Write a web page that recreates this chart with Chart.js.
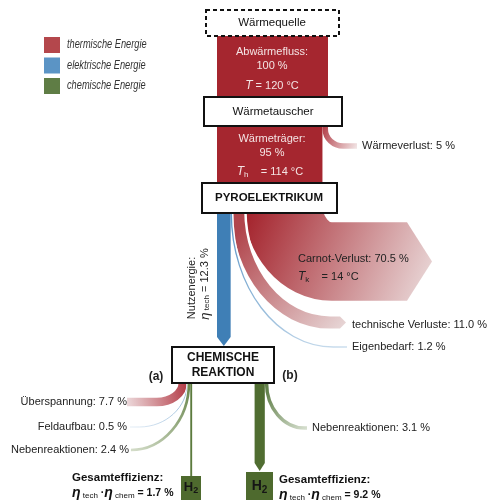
<!DOCTYPE html>
<html>
<head>
<meta charset="utf-8">
<script src="https://cdn.jsdelivr.net/npm/chart.js@4"></script>
<style>
  html, body { margin: 0; padding: 0; background: #fff; }
  #wrap { width: 501px; height: 500px; position: relative; }
</style>
</head>
<body>
<div id="wrap"><canvas id="sankey"></canvas></div>
<script>
/* ── Daten ── */
var legendLabels   = ['thermische Energie', 'elektrische Energie', 'chemische Energie'];
var nodeLabels     = ['Wärmequelle', 'Wärmetauscher', 'PYROELEKTRIKUM', 'CHEMISCHE', 'REAKTION'];
var mainLabels     = ['Abwärmefluss:', 'Wärmeträger:', 'Nutzenergie:'];
var mainValues     = [100, 95, 12.3];
var tempValues     = [120, 114, 14];          // T, Th, Tk in °C
var lossLabels     = ['Wärmeverlust', 'Carnot-Verlust', 'technische Verluste', 'Eigenbedarf'];
var lossValues     = [5, 70.5, 11.0, 1.2];
var lossDecimals   = [0, 1, 1, 1];
var pathALabels    = ['Überspannung', 'Feldaufbau', 'Nebenreaktionen'];
var pathAValues    = [7.7, 0.5, 2.4];
var pathBLabels    = ['Nebenreaktionen'];
var pathBValues    = [3.1];
var h2Values       = [1.7, 9.2];              // Gesamteffizienz (a), (b)

/* ── Layout (Datenkoordinaten = Pixel) ── */
var PCT = 1.11;                               // Einheiten pro Prozent
var C_RED = '#a5262f', C_BLUE = '#3f7fb6', C_GREEN = '#506d31';
var LEG_COLORS = ['#b4474c', '#5b94c5', '#5f7d45'];
var BAND_X = 217;

function fmt(v, d) { return v.toFixed(d) + ' %'; }

var sankeyPlugin = {
    id: 'sankey',
    afterDraw: function (chart) {
        var ctx = chart.ctx, xs = chart.scales.x, ys = chart.scales.y;
        var X = function (v) { return xs.getPixelForValue(v); };
        var Y = function (v) { return ys.getPixelForValue(v); };
        var W = function (p) { return X(p * PCT) - X(0); };
        var FONT = '"Liberation Sans", Arial, sans-serif';

        function rich(parts, x, y, align, color) {
            var total = 0;
            parts.forEach(function (p) { ctx.font = p[1] + ' ' + FONT; total += ctx.measureText(p[0]).width; });
            var cx = align === 'center' ? x - total / 2 : (align === 'right' ? x - total : x);
            ctx.fillStyle = color || '#222';
            ctx.textAlign = 'left';
            ctx.textBaseline = 'middle';
            parts.forEach(function (p) {
                ctx.font = p[1] + ' ' + FONT;
                ctx.fillText(p[0], cx, y + (p[2] || 0));
                cx += ctx.measureText(p[0]).width;
            });
        }
        function text(t, x, y, font, align, color) { rich([[t, font]], X(x), Y(y), align, color); }

        function grad(x0, y0, x1, y1, c0, c1) {
            var g = ctx.createLinearGradient(X(x0), Y(y0), X(x1), Y(y1));
            g.addColorStop(0, c0); g.addColorStop(1, c1);
            return g;
        }

        // Band: senkrecht ab (x0,y0), Viertelellipse (rx,ry), waagrecht bis xEnd
        function flow(f) {
            var w = W(f.v), dir = f.dir, K = 0.5523;
            var x0 = X(f.x0), y0 = Y(f.y0), yE = Y(f.yEnd), xE = X(f.xEnd);
            var rx = X(f.rx) - X(0), ry = Y(f.ry) - Y(0), ys0 = yE - ry;
            ctx.beginPath();
            ctx.moveTo(x0, y0);
            if (ys0 > y0) ctx.lineTo(x0, ys0);
            ctx.bezierCurveTo(x0, ys0 + K * ry, x0 + dir * rx * (1 - K), yE, x0 + dir * rx, yE);
            ctx.lineTo(xE, yE);
            if (f.halo) {
                ctx.strokeStyle = '#fff'; ctx.lineWidth = w + f.halo; ctx.lineCap = 'butt'; ctx.stroke();
            }
            ctx.strokeStyle = f.fill; ctx.lineWidth = Math.max(w, 0.8); ctx.lineCap = 'butt'; ctx.stroke();
            if (f.arrow) {
                ctx.beginPath();
                ctx.moveTo(xE, yE - w / 2);
                ctx.lineTo(xE + dir * f.arrow, yE);
                ctx.lineTo(xE, yE + w / 2);
                ctx.closePath();
                ctx.fillStyle = f.fill; ctx.fill();
            }
        }

        function box(x0, y0, x1, y1, dashed) {
            ctx.save();
            ctx.fillStyle = '#fff';
            ctx.fillRect(X(x0), Y(y0), X(x1) - X(x0), Y(y1) - Y(y0));
            ctx.lineWidth = 2; ctx.strokeStyle = '#111';
            if (dashed) ctx.setLineDash([4, 3]);
            ctx.strokeRect(X(x0), Y(y0), X(x1) - X(x0), Y(y1) - Y(y0));
            ctx.restore();
        }

        ctx.save();

        /* Legende (schmal gesetzt) */
        legendLabels.forEach(function (lbl, i) {
            var y = 37 + i * 20.5;
            ctx.fillStyle = LEG_COLORS[i];
            ctx.fillRect(X(44), Y(y), W(16 / PCT), Y(y + 16) - Y(y));
            ctx.save();
            ctx.translate(X(67), Y(y + 8));
            ctx.scale(0.77, 1);
            rich([[lbl, 'italic 12px']], 0, 0, 'left', '#333');
            ctx.restore();
        });

        /* Wärmebänder */
        ctx.fillStyle = C_RED;
        ctx.fillRect(X(BAND_X), Y(36), W(mainValues[0]), Y(98) - Y(36));
        ctx.fillRect(X(BAND_X), Y(125), W(mainValues[1]), Y(184) - Y(125));

        var xWv = BAND_X + mainValues[1] * PCT + lossValues[0] * PCT / 2;
        flow({ v: lossValues[0], x0: xWv, y0: 120, yEnd: 146, ry: 17, rx: 18, xEnd: 357, dir: 1,
               fill: grad(322, 130, 357, 146, '#b3404a', '#f1e3e3') });

        /* Aufteilung nach Pyroelektrikum */
        var xBlue = BAND_X + mainValues[2] * PCT / 2;
        var xEig  = BAND_X + mainValues[2] * PCT + lossValues[3] * PCT / 2;
        var xTech = BAND_X + (mainValues[2] + lossValues[3]) * PCT + lossValues[2] * PCT / 2;
        var xCar  = BAND_X + (mainValues[2] + lossValues[3] + lossValues[2]) * PCT + lossValues[1] * PCT / 2;

        flow({ v: lossValues[1], x0: xCar, y0: 205, yEnd: 261.5, ry: 56.5, rx: 48.5, xEnd: 407, dir: 1, arrow: 25,
               fill: grad(250, 215, 432, 290, '#a5262f', '#eadada') });
        flow({ v: lossValues[2], x0: xTech, y0: 205, yEnd: 322.5, ry: 112, rx: 92, xEnd: 340, dir: 1, arrow: 6, halo: 5,
               fill: grad(240, 230, 346, 325, '#b1454c', '#e7d6d6') });
        flow({ v: lossValues[3], x0: xEig, y0: 205, yEnd: 347, ry: 134, rx: 102, xEnd: 347, dir: 1, halo: 3,
               fill: grad(232, 220, 347, 347, '#5f97c7', '#cddfee') });

        // Nutzenergie (senkrecht, mit Spitze)
        var wb = W(mainValues[2]);
        ctx.fillStyle = C_BLUE;
        ctx.beginPath();
        ctx.moveTo(X(BAND_X), Y(205));
        ctx.lineTo(X(BAND_X) + wb, Y(205));
        ctx.lineTo(X(BAND_X) + wb, Y(337));
        ctx.lineTo(X(xBlue), Y(346));
        ctx.lineTo(X(BAND_X), Y(337));
        ctx.closePath();
        ctx.fill();

        /* Pfad (a) */
        var ax = 178.5, acc = 0;
        var aGeo = [
            { yEnd: 402, ry: 19, rx: 26, xEnd: 127, c0: '#b33a45', c1: '#ecd8da' },
            { yEnd: 427, ry: 44, rx: 48, xEnd: 130, c0: '#7ba8d0', c1: '#dde9f4' },
            { yEnd: 450, ry: 67, rx: 58, xEnd: 132, c0: '#6d8a52', c1: '#d3dcc8' }
        ];
        pathAValues.forEach(function (v, i) {
            var g = aGeo[i];
            flow({ v: v, x0: ax + (acc + v / 2) * PCT, y0: 380, yEnd: g.yEnd, ry: g.ry, rx: g.rx, xEnd: g.xEnd, dir: -1,
                   halo: i ? 1.5 : 0, fill: grad(ax + 10, 390, g.xEnd, g.yEnd, g.c0, g.c1) });
            acc += v;
        });
        var xH2a = ax + (acc + h2Values[0] / 2) * PCT;
        ctx.fillStyle = '#5c7b3d';
        ctx.fillRect(X(xH2a) - W(h2Values[0]) / 2, Y(380), W(h2Values[0]), Y(477) - Y(380));

        /* Pfad (b) */
        var bx = 254.6;
        var xH2b = bx + h2Values[1] * PCT / 2;
        flow({ v: pathBValues[0], x0: bx + (h2Values[1] + pathBValues[0] / 2) * PCT, y0: 380, yEnd: 428, ry: 45, rx: 38, xEnd: 307, dir: 1,
               fill: grad(268, 390, 307, 428, '#62804a', '#d6dfcf') });
        var wg = W(h2Values[1]);
        ctx.fillStyle = C_GREEN;
        ctx.beginPath();
        ctx.moveTo(X(bx), Y(380));
        ctx.lineTo(X(bx) + wg, Y(380));
        ctx.lineTo(X(bx) + wg, Y(463));
        ctx.lineTo(X(xH2b), Y(471));
        ctx.lineTo(X(bx), Y(463));
        ctx.closePath();
        ctx.fill();

        /* H2-Kästen */
        ctx.fillStyle = '#4e6a2e';
        ctx.fillRect(X(181), Y(476), X(201) - X(181), Y(501) - Y(476));
        ctx.fillRect(X(246), Y(472), X(273) - X(246), Y(501) - Y(472));
        rich([['H', 'bold 13px'], ['2', 'bold 9px', 4]], X(191), Y(487), 'center', '#151515');
        rich([['H', 'bold 14px'], ['2', 'bold 10px', 4]], X(259.5), Y(486), 'center', '#151515');

        /* Knoten */
        box(206, 10, 339, 36, true);
        box(204, 97, 342, 126);
        box(202, 183, 337, 213);
        box(172, 347, 274, 383);

        text(nodeLabels[0], 272, 23, '11.5px', 'center', '#111');
        text(nodeLabels[1], 273, 111.5, '11.5px', 'center', '#111');
        text(nodeLabels[2], 269, 198, 'bold 11.5px', 'center', '#111');
        text(nodeLabels[3], 223, 357.5, 'bold 12px', 'center', '#111');
        text(nodeLabels[4], 223, 372.5, 'bold 12px', 'center', '#111');

        /* Texte in den Bändern */
        var WT = '#f4e4e4';
        text(mainLabels[0], 272, 52, '11px', 'center', WT);
        text(fmt(mainValues[0], 0), 272, 65.5, '11px', 'center', WT);
        rich([['T', 'italic 12px'], [' = ' + tempValues[0] + ' °C', '11px']], X(272), Y(86), 'center', WT);
        text(mainLabels[1], 272, 139, '11px', 'center', WT);
        text(fmt(mainValues[1], 0), 272, 152.5, '11px', 'center', WT);
        rich([['T', 'italic 12px'], ['h', '8px', 3], ['    = ' + tempValues[1] + ' °C', '11px']], X(270), Y(172), 'center', WT);

        /* Verlust-Beschriftungen */
        text(lossLabels[0] + ': ' + fmt(lossValues[0], lossDecimals[0]), 362, 146, '11px', 'left', '#222');
        text(lossLabels[1] + ': ' + fmt(lossValues[1], lossDecimals[1]), 298, 259, '11px', 'left', '#222');
        rich([['T', 'italic 12px'], ['k', '8px', 3], ['    = ' + tempValues[2] + ' °C', '11px']], X(298), Y(277), 'left', '#222');
        text(lossLabels[2] + ': ' + fmt(lossValues[2], lossDecimals[2]), 352, 325, '11px', 'left', '#222');
        text(lossLabels[3] + ': ' + fmt(lossValues[3], lossDecimals[3]), 352, 347, '11px', 'left', '#222');

        // Nutzenergie (gedreht)
        ctx.save();
        ctx.translate(X(192), Y(288));
        ctx.rotate(-Math.PI / 2);
        rich([[mainLabels[2], '11px']], 0, 0, 'center', '#222');
        ctx.restore();
        ctx.save();
        ctx.translate(X(205), Y(284));
        ctx.rotate(-Math.PI / 2);
        rich([['η', 'italic 13px'], [' tech', '8px', 2], [' = ' + fmt(mainValues[2], 1), '11px']], 0, 0, 'center', '#222');
        ctx.restore();

        /* Pfad-Beschriftungen */
        text('(a)', 156, 377, 'bold 12px', 'center', '#222');
        text('(b)', 290, 376, 'bold 12px', 'center', '#222');
        var aLab = [[127, 402], [127, 427], [129, 450]];
        pathALabels.forEach(function (l, i) {
            text(l + ': ' + fmt(pathAValues[i], 1), aLab[i][0], aLab[i][1], '11px', 'right', '#222');
        });
        text(pathBLabels[0] + ': ' + fmt(pathBValues[0], 1), 312, 428, '11px', 'left', '#222');

        /* Gesamteffizienz */
        [[72, 478, 0], [279, 480, 1]].forEach(function (p) {
            text('Gesamteffizienz:', p[0], p[1], 'bold 11.5px', 'left', '#111');
            rich([['η', 'bold italic 14px'], [' tech', '8px', 3], [' ·', 'bold 10.5px'], ['η', 'bold italic 14px'],
                  [' chem', '8px', 3], [' = ' + fmt(h2Values[p[2]], 1), 'bold 10.5px']],
                 X(p[0]), Y(p[1] + 15), 'left', '#111');
        });

        ctx.restore();
    }
};

new Chart(document.getElementById('sankey'), {
    type: 'scatter',
    data: { datasets: [{ data: [] }] },
    options: {
        responsive: true,
        maintainAspectRatio: false,
        animation: false,
        layout: { padding: 0 },
        scales: {
            x: { type: 'linear', min: 0, max: 501, display: false },
            y: { type: 'linear', min: 0, max: 500, reverse: true, display: false }
        },
        plugins: { legend: { display: false }, tooltip: { enabled: false } }
    },
    plugins: [sankeyPlugin]
});
</script>
</body>
</html>
